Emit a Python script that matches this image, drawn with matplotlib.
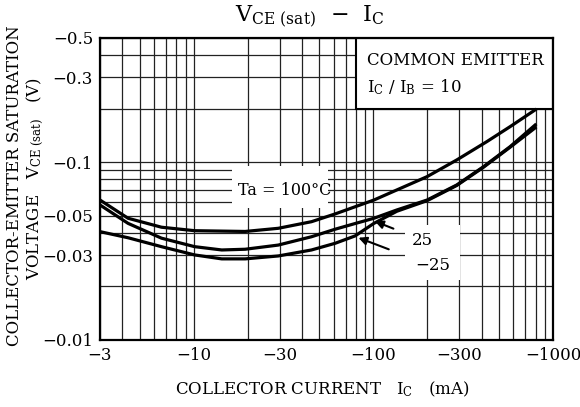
import numpy as np
import matplotlib
matplotlib.use("Agg")
import matplotlib.pyplot as plt
from matplotlib.patches import Rectangle

plt.rcParams['font.family'] = ['DejaVu Serif']
plt.rcParams['mathtext.fontset'] = 'dejavuserif'

# donnees (IC en mA, VCE(sat) en V)
ic_100 = [-3, -4.3, -6.6, -10.1, -19.3, -29.5, -45.2, -61.2, -100.6, -199, -291, -428, -577, -795]
vce_100 = [-0.0613, -0.0484, -0.0431, -0.0412, -0.0408, -0.0425, -0.0463, -0.0512, -0.0613,
           -0.083, -0.103, -0.1306, -0.1586, -0.197]

ic_25 = [-3, -4.3, -6.6, -10.1, -14.3, -19.3, -29.5, -45.2, -61.2, -79, -100.6, -135, -199, -291, -410, -577, -795]
vce_25 = [-0.0575, -0.0453, -0.0374, -0.0335, -0.0321, -0.0324, -0.0342, -0.0381, -0.0420, -0.0452,
          -0.0484, -0.0539, -0.0613, -0.0745, -0.0944, -0.1224, -0.162]

ic_m25 = [-3, -4.3, -6.6, -10.1, -14.3, -19.3, -29.5, -45.2, -61.2, -79, -100.6, -135, -199, -291, -410, -577, -795]
vce_m25 = [-0.0407, -0.0376, -0.0335, -0.0301, -0.0286, -0.0286, -0.0297, -0.0321, -0.0350, -0.0385,
           -0.0453, -0.0530, -0.0608, -0.0740, -0.0937, -0.1215, -0.156]

xticks = [-3, -10, -30, -100, -300, -1000]
yticks = [-0.5, -0.3, -0.1, -0.05, -0.03, -0.01]

fig = plt.figure(figsize=(5.8, 4.07), dpi=100)
ax = fig.add_axes([100/580, 1-340/407, 453/580, 302/407])
ax.set_xscale('log')
ax.set_yscale('log')
ax.set_xlim(3, 1000)
ax.set_ylim(0.01, 0.5)

# grille
gc = '#222222'
for dec in [1, 10, 100]:
    for k in range(1, 10):
        v = dec * k
        if 3 <= v <= 1000:
            ax.axvline(v, color=gc, lw=0.9, zorder=1)
for dec in [0.01, 0.1]:
    for k in range(1, 10):
        v = dec * k
        if 0.01 < v <= 0.5:
            ax.axhline(v, color=gc, lw=0.9, zorder=1)

# cadres blancs sous les etiquettes
ax.add_patch(Rectangle((16.2, 0.0555), 55.8-16.2, 0.095-0.0555, facecolor='white', edgecolor='none', zorder=2))
ax.add_patch(Rectangle((150, 0.0218), 304-150, 0.0444-0.0218, facecolor='white', edgecolor='none', zorder=2))
ax.add_patch(Rectangle((80, 0.2), 1000-80, 0.5-0.2, facecolor='white', edgecolor='black', lw=1.5, zorder=2))

for x, y in [(ic_100, vce_100), (ic_25, vce_25), (ic_m25, vce_m25)]:
    ax.plot(np.abs(x), np.abs(y), color='black', lw=2.3, zorder=4, solid_joinstyle='round')

ax.text(92, 0.373, 'COMMON EMITTER', fontsize=12, va='center', ha='left', zorder=5)
ax.text(92, 0.265, r'I$_\mathrm{C}$ / I$_\mathrm{B}$ = 10', fontsize=12, va='center', ha='left', zorder=5)
ax.text(17.5, 0.0695, 'Ta = 100°C', fontsize=11.5, va='center', ha='left', zorder=5)

ax.annotate('25', xy=(102, 0.0465), xytext=(187, 0.0365), fontsize=12, ha='center', va='center', zorder=5,
            arrowprops=dict(arrowstyle='-|>', color='black', lw=1.5, shrinkA=12, shrinkB=0, mutation_scale=12))
ax.annotate('−25', xy=(82.5, 0.0376), xytext=(213, 0.0261), fontsize=12, ha='center', va='center', zorder=5,
            arrowprops=dict(arrowstyle='-|>', color='black', lw=1.5, shrinkA=18, shrinkB=0, mutation_scale=12))

ax.set_xticks(np.abs(xticks))
ax.set_xticklabels(['−' + str(abs(t)) for t in xticks])
ax.set_yticks(np.abs(yticks))
ax.set_yticklabels(['−' + str(abs(t)) for t in yticks])
ax.minorticks_off()
ax.tick_params(length=0, labelsize=12, pad=5)

for s in ax.spines.values():
    s.set_linewidth(1.6)
    s.set_zorder(6)

fig.text(310/580, 1-17/407, r'V$_\mathrm{CE\ (sat)}$  −  I$_\mathrm{C}$', fontsize=16, ha='center', va='center')
fig.text(322/580, 1-389/407, r'COLLECTOR CURRENT   I$_\mathrm{C}$   (mA)', fontsize=12, ha='center', va='center')
fig.text(15/580, 1-186/407, 'COLLECTOR-EMITTER SATURATION', fontsize=12, rotation=90, ha='center', va='center')
fig.text(35/580, 1-178/407, r'VOLTAGE   V$_\mathrm{CE\ (sat)}$   (V)', fontsize=12, rotation=90, ha='center', va='center')

fig.savefig('out.png', dpi=100)
